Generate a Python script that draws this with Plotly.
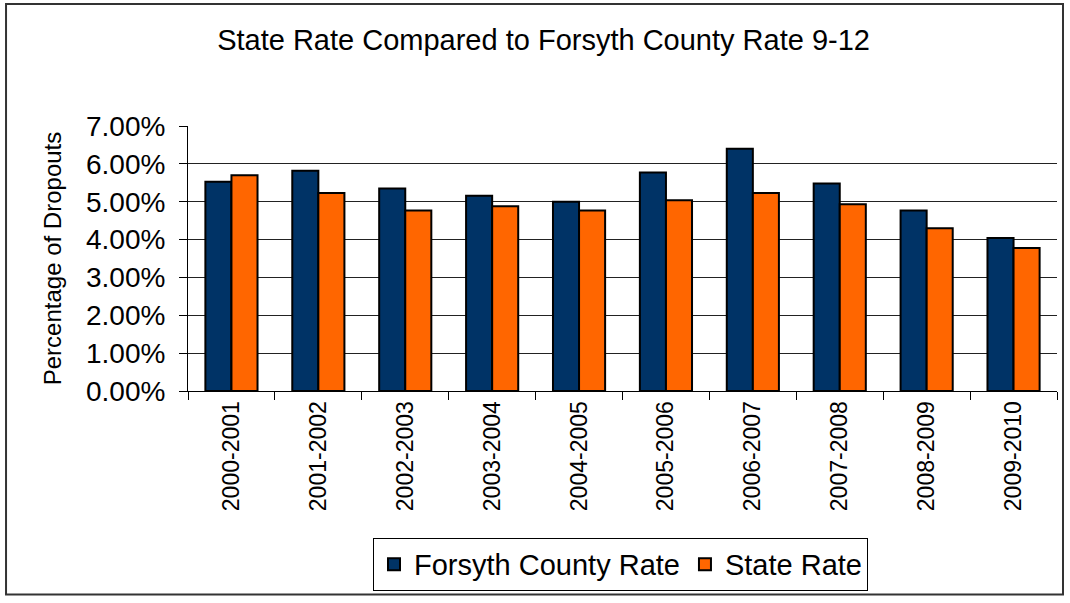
import plotly.graph_objects as go

years = ["2000-2001", "2001-2002", "2002-2003", "2003-2004", "2004-2005",
         "2005-2006", "2006-2007", "2007-2008", "2008-2009", "2009-2010"]
forsyth_rate = [0.0553, 0.0582, 0.0535, 0.0516, 0.0500, 0.0577, 0.0640, 0.0548, 0.0477, 0.0404]
state_rate = [0.0570, 0.0523, 0.0477, 0.0488, 0.0477, 0.0504, 0.0523, 0.0493, 0.0430, 0.0378]
y_ticks = [0, 0.01, 0.02, 0.03, 0.04, 0.05, 0.06, 0.07]
grid_vals = [0.01, 0.02, 0.03, 0.04, 0.05, 0.06]

FONT = "Liberation Sans, Arial, sans-serif"

fig = go.Figure()
fig.add_trace(go.Bar(name="Forsyth County Rate", x=years, y=forsyth_rate,
                     marker=dict(color="#003366", line=dict(color="#000000", width=2))))
fig.add_trace(go.Bar(name="State Rate", x=years, y=state_rate,
                     marker=dict(color="#FF6600", line=dict(color="#000000", width=2))))

fig.update_layout(
    width=1070, height=603,
    margin=dict(l=188, r=13, t=126, b=210),
    paper_bgcolor="white", plot_bgcolor="white",
    barmode="group", bargap=0.4, bargroupgap=0,
    font=dict(family=FONT, color="black"),
    title=dict(text="State Rate Compared to Forsyth County Rate 9-12",
               x=0.508, xref="container", xanchor="center",
               y=0.934, yref="container", yanchor="middle",
               font=dict(size=29, family=FONT, color="black")),
    xaxis=dict(type="category", showline=True, linecolor="black", linewidth=1,
               ticks="outside", ticklen=8, tickcolor="black", tickson="boundaries",
               tickangle=-90, tickfont=dict(size=23, family=FONT), showgrid=False),
    yaxis=dict(range=[0, 0.07], tickvals=y_ticks, tickformat=".2%",
               showline=True, linecolor="black", linewidth=1,
               ticks="outside", ticklen=8, tickcolor="black",
               tickfont=dict(size=28, family=FONT), showgrid=False, zeroline=False,
               ticklabelstandoff=8,
               minor=dict(tickvals=grid_vals, showgrid=True, gridcolor="#222222",
                          gridwidth=1, ticks=""),
               title=dict(text="Percentage of Dropouts", font=dict(size=24, family=FONT),
                          standoff=17)),
    legend=dict(orientation="h", x=0.2129, y=-0.554, xanchor="left", yanchor="top",
                bordercolor="black", borderwidth=1, bgcolor="white",
                font=dict(size=29, family=FONT), itemwidth=30, tracegroupgap=0),
    shapes=[dict(type="rect", xref="paper", yref="paper",
                 x0=-0.2094, x1=1.0069, y0=-0.7678, y1=1.4607,
                 line=dict(color="#333333", width=2), fillcolor="rgba(0,0,0,0)")],
)

fig.write_html("out.html", config={"displayModeBar": False},
               post_script="document.body.style.margin='0';")
